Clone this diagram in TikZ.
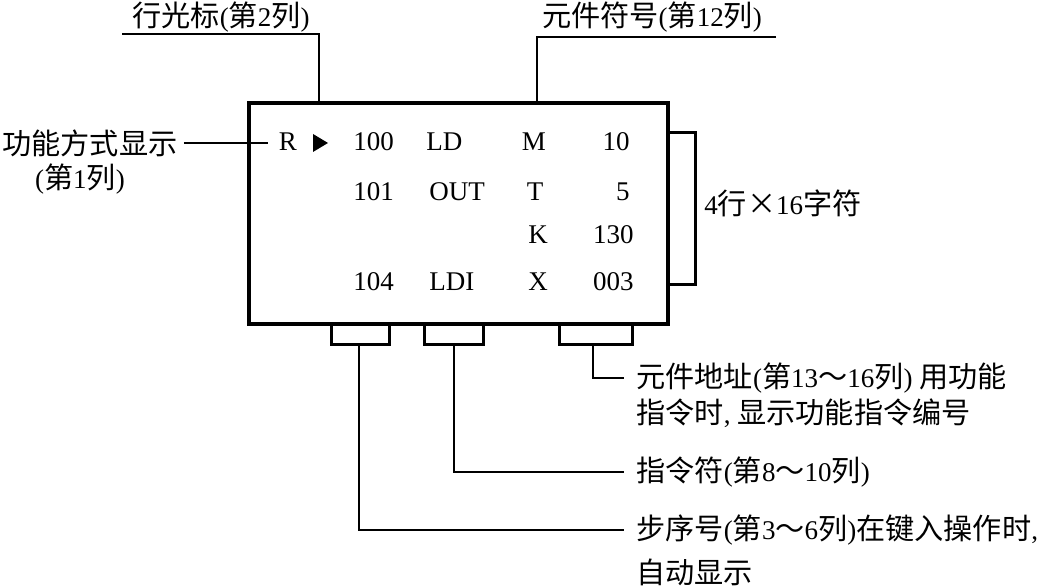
\documentclass[tikz,border=0pt]{standalone}
\usepackage{fontspec}
\setmainfont{Liberation Serif}
\newfontfamily\cjk{Noto Sans CJK SC}[Scale=1.08]
\usetikzlibrary{positioning}
\newcommand{\zh}[1]{{\cjk #1}}

\begin{document}
\begin{tikzpicture}[x=0.5pt,y=-0.5pt,
    lcd/.style ={draw=black,line width=2pt},
    slot/.style={draw=black,line width=1.5pt},
    lead/.style={draw=black,line width=0.7pt},
    txt/.style ={font=\fontsize{13.5}{16}\selectfont,inner sep=0pt},
    note/.style={font=\fontsize{13.5}{16}\selectfont,inner sep=0pt},
  ]

% fixed bounding box -> same proportions as the screen sketch
\path[use as bounding box] (0,0) rectangle (1051,587);

% ---- field slots under the screen ------------------------------------------
\draw[slot] (331,324) rectangle (389,345);
\draw[slot] (424,324) rectangle (483,345);
\draw[slot] (559,324) rectangle (632,345);
\coordinate (slotStep) at (359,345);
\coordinate (slotInstr) at (454,345);
\coordinate (slotAddr) at (593,345);

% ---- screen frame ----------------------------------------------------------
\coordinate (lcdNW) at (249,103);
\coordinate (lcdSE) at (668,324);
\draw[lcd] (lcdNW) rectangle (lcdSE);

% bracket: 4 rows
\draw[slot] (668,133) -- (695,133) -- (695,285) -- (668,285);
\node[note,anchor=west] (size) at (704,203) {4\zh{行×}16\zh{字符}};

% ---- screen contents -------------------------------------------------------
\node[txt] (mode) at (288,142) {R};
\fill (313,134) -- (328,143) -- (313,152) -- cycle;

\node[txt,anchor=west] (stepA) at (353,142) {100};
\node[txt,anchor=west] (stepB) at (353,192) {101};
\node[txt,anchor=west] (stepD) at (353,282) {104};

\node[txt,anchor=west] (instrA) at (426,142) {LD};
\node[txt,anchor=west] (instrB) at (429,192) {OUT};
\node[txt,anchor=west] (instrD) at (429,282) {LDI};

\node[txt] (devA) at (534,142) {M};
\node[txt] (devB) at (535,192) {T};
\node[txt] (devC) at (538,235) {K};
\node[txt] (devD) at (538,282) {X};

\node[txt,anchor=east] (numA) at (630,142) {10};
\node[txt,anchor=east] (numB) at (630,192) {5};
\node[txt,anchor=east] (numC) at (634,235) {130};
\node[txt,anchor=east] (numD) at (634,282) {003};

% ---- callouts above and left -----------------------------------------------
\node[note,anchor=west] (fmode) at (2,143) {\zh{功能方式显示}};
\node[note] (fcol) at (80,179) {(\zh{第}1\zh{列})};
\coordinate (modeEnd) at (268,143);
\draw[lead] ([xshift=3pt]fmode.east) -- (modeEnd);

\node[note] (cursor) at (221,17) {\zh{行光标}(\zh{第}2\zh{列})};
\coordinate (cursorL) at (122,34);
\coordinate (cursorT) at (319,103);
\draw[lead] (cursorL) -| (cursorT);

\node[note] (devsym) at (652,17) {\zh{元件符号}(\zh{第}12\zh{列})};
\coordinate (devsymR) at (776,37);
\coordinate (devsymB) at (537,103);
\draw[lead] (devsymR) -| (devsymB);

% ---- callouts below --------------------------------------------------------
\node[note,anchor=west] (addr1) at (636,378)
  {\zh{元件地址}(\zh{第}13\zh{～}16\zh{列})\ \zh{用功能}};
\node[note,anchor=west] (addr2) at (636,413)
  {\zh{指令时}, \zh{显示功能指令编号}};
\draw[lead] (slotAddr) |- ([xshift=-6pt]addr1.west);

\node[note,anchor=west] (instr) at (636,472)
  {\zh{指令符}(\zh{第}8\zh{～}10\zh{列})};
\draw[lead] (slotInstr) |- ([xshift=-6pt]instr.west);

\node[note,anchor=west] (step1) at (636,530)
  {\zh{步序号}(\zh{第}3\zh{～}6\zh{列})\zh{在键入操作时},};
\node[note,anchor=west] (step2) at (636,572) {\zh{自动显示}};
\draw[lead] (slotStep) |- ([xshift=-6pt]step1.west);

\end{tikzpicture}
\end{document}
